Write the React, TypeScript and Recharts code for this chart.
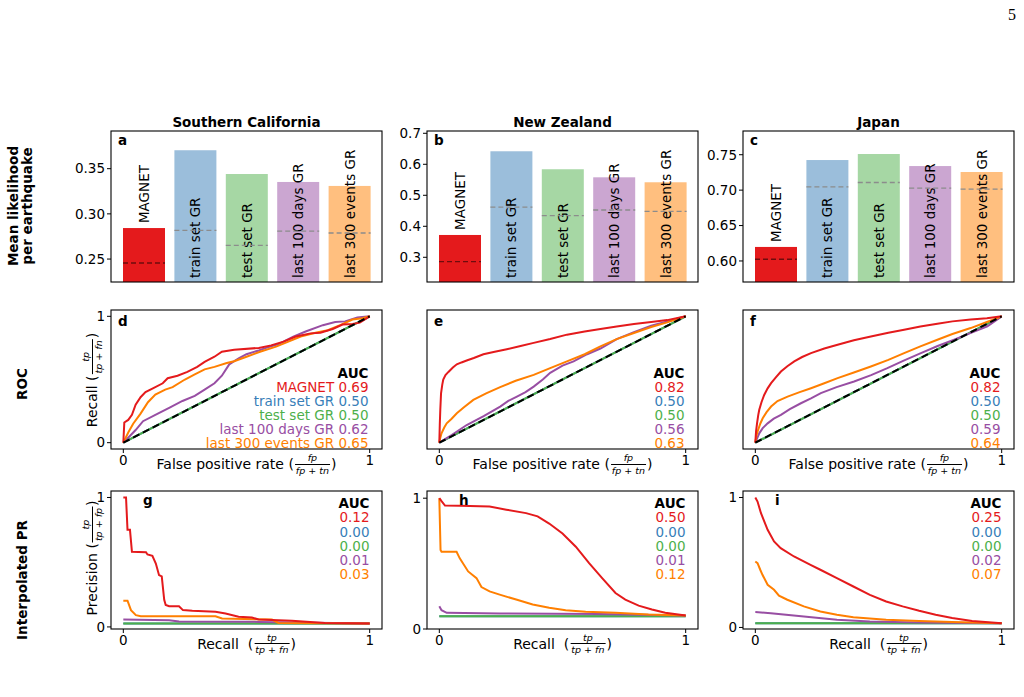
import React from 'react';
import { ComposedChart, LineChart, Bar, Line, XAxis, YAxis } from 'recharts';

const FONT = '"DejaVu Sans", Verdana, sans-serif';
const TEXT_SIZE = 13.5;

const METHODS = ['MAGNET', 'train set GR', 'test set GR', 'last 100 days GR', 'last 300 events GR'];
const LINE_COLORS = ['#e41a1c', '#377eb8', '#4daf4a', '#984ea3', '#ff7f00'];
const BAR_COLORS = ['#e41a1c', '#9bbedb', '#a6d7a4', '#cba6d1', '#ffbf7f'];
const REGIONS = ['Southern California', 'New Zealand', 'Japan'];
const ROW_LABELS = ['ROC', 'Interpolated PR'];

// mean likelihood per earthquake (bar) and the dashed reference level drawn on each bar
const socalLikelihood = [0.2843, 0.3704, 0.3441, 0.3353, 0.3309];
const socalReference = [0.2456, 0.2817, 0.2652, 0.281, 0.2788];
const socalTicks = [0.25, 0.3, 0.35];
const socalDomain = [0.2246, 0.3917];

const nzLikelihood = [0.372, 0.642, 0.584, 0.558, 0.542];
const nzReference = [0.286, 0.462, 0.4345, 0.4526, 0.4484];
const nzTicks = [0.3, 0.4, 0.5, 0.6, 0.7];
const nzDomain = [0.2203, 0.7074];

const japanLikelihood = [0.6198, 0.7425, 0.751, 0.734, 0.7256];
const japanReference = [0.6024, 0.7047, 0.7108, 0.7028, 0.7014];
const japanTicks = [0.6, 0.65, 0.7, 0.75];
const japanDomain = [0.5703, 0.7835];

// ROC curves, [false positive rate, recall]
const rocTrainGR = [[0, 0], [1, 1]];
const rocTestGR = [[0, 0], [1, 1]];
const chanceLine = [[0, 0], [1, 1]];

const rocSoCalMagnet = [
  [0, 0], [0.004, 0.16], [0.02, 0.18], [0.035, 0.22], [0.05, 0.3], [0.07, 0.36], [0.09, 0.4],
  [0.12, 0.43], [0.16, 0.47], [0.18, 0.51], [0.22, 0.53], [0.26, 0.56], [0.3, 0.6], [0.33, 0.64],
  [0.37, 0.68], [0.4, 0.72], [0.45, 0.735], [0.55, 0.75], [0.6, 0.77], [0.65, 0.8], [0.7, 0.84],
  [0.76, 0.865], [0.8, 0.87], [0.85, 0.9], [0.89, 0.935], [0.93, 0.94], [0.96, 0.95], [1, 1],
];
const rocSoCal100 = [
  [0, 0], [0.05, 0.1], [0.08, 0.17], [0.14, 0.23], [0.19, 0.28], [0.24, 0.33], [0.29, 0.37],
  [0.33, 0.42], [0.37, 0.47], [0.4, 0.53], [0.43, 0.62], [0.47, 0.67], [0.5, 0.7], [0.55, 0.73],
  [0.58, 0.75], [0.63, 0.78], [0.69, 0.84], [0.74, 0.88], [0.81, 0.93], [0.86, 0.955], [0.9, 0.96],
  [0.95, 0.99], [1, 1],
];
const rocSoCal300 = [
  [0, 0], [0.02, 0.08], [0.04, 0.15], [0.07, 0.23], [0.1, 0.32], [0.13, 0.38], [0.17, 0.42],
  [0.2, 0.44], [0.25, 0.5], [0.29, 0.54], [0.33, 0.58], [0.37, 0.6], [0.42, 0.63], [0.45, 0.645],
  [0.5, 0.68], [0.555, 0.72], [0.62, 0.76], [0.67, 0.8], [0.72, 0.84], [0.78, 0.87], [0.83, 0.89],
  [0.88, 0.93], [0.93, 0.975], [0.97, 0.985], [1, 1],
];

const rocNzMagnet = [
  [0, 0], [0.002, 0.15], [0.004, 0.26], [0.007, 0.39], [0.012, 0.46], [0.016, 0.5], [0.025, 0.535],
  [0.037, 0.56], [0.055, 0.595], [0.071, 0.62], [0.09, 0.635], [0.111, 0.65], [0.14, 0.67],
  [0.179, 0.7], [0.225, 0.72], [0.274, 0.74], [0.33, 0.765], [0.383, 0.79], [0.45, 0.82],
  [0.518, 0.855], [0.59, 0.88], [0.654, 0.9], [0.72, 0.92], [0.79, 0.94], [0.86, 0.955],
  [0.925, 0.97], [1, 1],
];
const rocNz100 = [
  [0, 0], [0.05, 0.06], [0.111, 0.14], [0.18, 0.21], [0.247, 0.286], [0.28, 0.33], [0.315, 0.365],
  [0.35, 0.4], [0.383, 0.444], [0.42, 0.5], [0.45, 0.553], [0.5, 0.61], [0.545, 0.643], [0.6, 0.7],
  [0.654, 0.745], [0.72, 0.82], [0.79, 0.875], [0.86, 0.925], [0.925, 0.96], [1, 1],
];
const rocNz300 = [
  [0, 0], [0.004, 0.04], [0.009, 0.074], [0.02, 0.12], [0.03, 0.153], [0.05, 0.19], [0.071, 0.233],
  [0.1, 0.28], [0.138, 0.339], [0.19, 0.39], [0.247, 0.439], [0.31, 0.49], [0.383, 0.537],
  [0.45, 0.59], [0.518, 0.643], [0.59, 0.7], [0.654, 0.762], [0.72, 0.82], [0.79, 0.868],
  [0.86, 0.915], [0.925, 0.952], [1, 1],
];

const rocJapanMagnet = [
  [0, 0], [0.003, 0.09], [0.007, 0.153], [0.012, 0.22], [0.016, 0.26], [0.025, 0.32], [0.036, 0.378],
  [0.05, 0.43], [0.064, 0.471], [0.085, 0.52], [0.104, 0.563], [0.13, 0.605], [0.158, 0.643],
  [0.19, 0.678], [0.226, 0.709], [0.28, 0.745], [0.334, 0.775], [0.4, 0.81], [0.469, 0.841],
  [0.54, 0.87], [0.604, 0.894], [0.67, 0.92], [0.739, 0.942], [0.8, 0.96], [0.874, 0.974],
  [0.94, 0.985], [1, 1],
];
const rocJapan100 = [
  [0, 0], [0.016, 0.074], [0.03, 0.115], [0.05, 0.153], [0.075, 0.19], [0.104, 0.22], [0.14, 0.265],
  [0.185, 0.312], [0.226, 0.35], [0.266, 0.392], [0.33, 0.44], [0.401, 0.484], [0.47, 0.535],
  [0.536, 0.59], [0.6, 0.648], [0.672, 0.709], [0.74, 0.765], [0.807, 0.815], [0.87, 0.865],
  [0.942, 0.921], [1, 1],
];
const rocJapan300 = [
  [0, 0], [0.004, 0.05], [0.009, 0.087], [0.02, 0.15], [0.03, 0.193], [0.045, 0.24], [0.064, 0.286],
  [0.09, 0.33], [0.131, 0.365], [0.18, 0.4], [0.226, 0.431], [0.28, 0.47], [0.334, 0.511],
  [0.4, 0.555], [0.469, 0.603], [0.54, 0.655], [0.604, 0.709], [0.67, 0.762], [0.739, 0.815],
  [0.8, 0.86], [0.874, 0.907], [0.94, 0.955], [1, 1],
];

const rocAucSoCal = [0.69, 0.5, 0.5, 0.62, 0.65];
const rocAucNz = [0.82, 0.5, 0.5, 0.56, 0.63];
const rocAucJapan = [0.82, 0.5, 0.5, 0.59, 0.64];

// interpolated precision-recall curves, [recall, precision]
const prSoCalMagnet = [
  [0, 1], [0.011, 1], [0.017, 0.75], [0.027, 0.75], [0.035, 0.58], [0.092, 0.577], [0.098, 0.56],
  [0.118, 0.55], [0.132, 0.49], [0.145, 0.4], [0.156, 0.39], [0.166, 0.21], [0.172, 0.17],
  [0.186, 0.16], [0.226, 0.16], [0.242, 0.13], [0.28, 0.125], [0.374, 0.117], [0.415, 0.104],
  [0.468, 0.078], [0.522, 0.073], [0.549, 0.057], [0.684, 0.047], [0.818, 0.031], [1, 0.026],
];
const prSoCalTrainGR = [[0, 0.026], [1, 0.026]];
const prSoCalTestGR = [[0, 0.026], [1, 0.026]];
const prSoCal100 = [[0, 0.057], [0.186, 0.052], [0.226, 0.042], [0.549, 0.039], [1, 0.026]];
const prSoCal300 = [
  [0, 0.203], [0.017, 0.203], [0.031, 0.13], [0.051, 0.091], [0.071, 0.083], [0.374, 0.083],
  [0.401, 0.065], [0.603, 0.057], [0.63, 0.031], [1, 0.026],
];

const prNzMagnet = [
  [0, 1], [0.009, 0.977], [0.023, 0.944], [0.083, 0.942], [0.204, 0.937], [0.272, 0.912],
  [0.352, 0.886], [0.399, 0.861], [0.446, 0.806], [0.5, 0.73], [0.554, 0.629], [0.608, 0.503],
  [0.661, 0.389], [0.715, 0.275], [0.755, 0.225], [0.809, 0.179], [0.863, 0.149], [0.917, 0.124],
  [1, 0.104],
];
const prNzTrainGR = [[0, 0.098], [1, 0.098]];
const prNzTestGR = [[0, 0.098], [1, 0.098]];
const prNz100 = [[0, 0.174], [0.009, 0.144], [0.03, 0.124], [0.245, 0.119], [0.648, 0.114], [1, 0.104]];
const prNz300 = [
  [0, 1], [0.005, 0.604], [0.009, 0.591], [0.07, 0.591], [0.083, 0.54], [0.117, 0.44], [0.151, 0.389],
  [0.171, 0.321], [0.204, 0.288], [0.245, 0.263], [0.312, 0.225], [0.379, 0.187], [0.446, 0.162],
  [0.513, 0.144], [0.594, 0.131], [0.715, 0.124], [0.849, 0.111], [1, 0.104],
];

const prJapanMagnet = [
  [0, 1], [0.009, 0.969], [0.023, 0.879], [0.05, 0.751], [0.076, 0.662], [0.103, 0.61],
  [0.157, 0.546], [0.224, 0.482], [0.264, 0.444], [0.331, 0.379], [0.398, 0.315], [0.465, 0.251],
  [0.531, 0.2], [0.598, 0.162], [0.665, 0.128], [0.732, 0.097], [0.799, 0.072], [0.88, 0.049],
  [1, 0.033],
];
const prJapanTrainGR = [[0, 0.033], [1, 0.033]];
const prJapanTestGR = [[0, 0.033], [1, 0.033]];
const prJapan100 = [
  [0, 0.118], [0.063, 0.11], [0.197, 0.085], [0.331, 0.059], [0.465, 0.046], [0.665, 0.038], [1, 0.033],
];
const prJapan300 = [
  [0, 0.508], [0.009, 0.495], [0.02, 0.444], [0.029, 0.405], [0.05, 0.328], [0.076, 0.29],
  [0.096, 0.244], [0.13, 0.213], [0.197, 0.162], [0.264, 0.123], [0.331, 0.097], [0.398, 0.079],
  [0.531, 0.059], [0.665, 0.049], [0.799, 0.041], [1, 0.033],
];

const prAucSoCal = [0.12, 0.0, 0.0, 0.01, 0.03];
const prAucNz = [0.5, 0.0, 0.0, 0.01, 0.12];
const prAucJapan = [0.25, 0.0, 0.0, 0.02, 0.07];

// layout of the 3x3 grid of panels (plot boxes)
const COL_LEFT = [111, 427, 743];
const PLOT_W = 271;
const BAR_ROW = { top: 131, h: 151 };
const ROC_ROW = { top: 310, h: 139 };
const PR_ROW = { top: 491, h: 138 };
const PAD_L = 50;
const PAD_T = 10;
const PAD_R = 10;
const PAD_B = 30;
const BAR_W = 42;

const toPoints = (pts: number[][]) => pts.map(([x, y]) => ({ x, y }));

const tickStyle = { fontSize: TEXT_SIZE, fill: '#000', fontFamily: FONT };

const likelihoodPanels = [
  { values: socalLikelihood, refs: socalReference, domain: socalDomain, ticks: socalTicks, decimals: 2 },
  { values: nzLikelihood, refs: nzReference, domain: nzDomain, ticks: nzTicks, decimals: 1 },
  { values: japanLikelihood, refs: japanReference, domain: japanDomain, ticks: japanTicks, decimals: 2 },
];

const rocPanels = [
  { curves: [rocSoCalMagnet, rocTrainGR, rocTestGR, rocSoCal100, rocSoCal300], auc: rocAucSoCal },
  { curves: [rocNzMagnet, rocTrainGR, rocTestGR, rocNz100, rocNz300], auc: rocAucNz },
  { curves: [rocJapanMagnet, rocTrainGR, rocTestGR, rocJapan100, rocJapan300], auc: rocAucJapan },
];

const prPanels = [
  { curves: [prSoCalMagnet, prSoCalTrainGR, prSoCalTestGR, prSoCal100, prSoCal300], auc: prAucSoCal, domain: [-0.016, 1.05] },
  { curves: [prNzMagnet, prNzTrainGR, prNzTestGR, prNz100, prNz300], auc: prAucNz, domain: [0, 1.055] },
  { curves: [prJapanMagnet, prJapanTrainGR, prJapanTestGR, prJapan100, prJapan300], auc: prAucJapan, domain: [-0.012, 1.05] },
];

// series are drawn blue, green, purple, orange, then red on top
const DRAW_ORDER = [1, 2, 3, 4, 0];

// filled bar plus its rotated method name
const renderLikelihoodBar = (props: any) => {
  const { x, y, width, height, payload } = props;
  if (x == null || y == null || !payload) return <g />;
  const i = METHODS.indexOf(payload.name);
  const cx = x + width / 2;
  const start = i === 0 ? y - 5 : y + height - 4;
  return (
    <g>
      <rect x={x} y={y} width={width} height={height} fill={BAR_COLORS[i]} />
      <text
        x={cx}
        y={start}
        transform={`rotate(-90 ${cx} ${start})`}
        textAnchor="start"
        dominantBaseline="central"
        fontSize={TEXT_SIZE}
        fontFamily={FONT}
        fill="#000"
      >
        {payload.name}
      </text>
    </g>
  );
};

// only the top edge of this bar is drawn, as a dashed level line
const renderRefDash = (props: any) => {
  const { x, y, width, payload } = props;
  if (x == null || y == null) return <g />;
  const magnet = payload && payload.name === METHODS[0];
  return (
    <line
      x1={x}
      x2={x + width}
      y1={y}
      y2={y}
      stroke={magnet ? '#6e0c0d' : '#8c8c8c'}
      strokeWidth={1.3}
      strokeDasharray="5 3"
    />
  );
};

function LikelihoodPanel({ col }: { col: number }) {
  const p = likelihoodPanels[col];
  const rows = METHODS.map((name, i) => ({ name, value: p.values[i], ref: p.refs[i] }));
  return (
    <div style={{ position: 'absolute', left: COL_LEFT[col] - PAD_L, top: BAR_ROW.top - PAD_T }}>
      <ComposedChart
        width={PLOT_W + PAD_L + PAD_R}
        height={BAR_ROW.h + PAD_T + PAD_B}
        data={rows}
        margin={{ top: PAD_T, right: PAD_R, bottom: 0, left: 0 }}
        barSize={BAR_W}
        barGap={-BAR_W}
      >
        <XAxis
          dataKey="name"
          type="category"
          height={PAD_B}
          tick={false}
          tickLine={false}
          axisLine={false}
          padding={{ left: 7, right: 7 }}
        />
        <YAxis
          type="number"
          domain={p.domain}
          ticks={p.ticks}
          allowDataOverflow
          width={PAD_L}
          axisLine={false}
          tickSize={4}
          tickMargin={2}
          tickLine={{ stroke: '#000' }}
          tick={tickStyle}
          tickFormatter={(v: number) => v.toFixed(p.decimals)}
        />
        <Bar dataKey="value" isAnimationActive={false} shape={renderLikelihoodBar} />
        <Bar dataKey="ref" isAnimationActive={false} shape={renderRefDash} />
      </ComposedChart>
    </div>
  );
}

function CurvePanel({
  col,
  row,
  curves,
  yDomain,
  showY,
  chance,
}: {
  col: number;
  row: { top: number; h: number };
  curves: number[][][];
  yDomain: number[];
  showY: boolean;
  chance: boolean;
}) {
  return (
    <div style={{ position: 'absolute', left: COL_LEFT[col] - PAD_L, top: row.top - PAD_T }}>
      <LineChart
        width={PLOT_W + PAD_L + PAD_R}
        height={row.h + PAD_T + PAD_B}
        margin={{ top: PAD_T, right: PAD_R, bottom: 0, left: 0 }}
      >
        <XAxis
          type="number"
          dataKey="x"
          domain={[-0.05, 1.05]}
          ticks={[0, 1]}
          allowDataOverflow
          height={PAD_B}
          axisLine={false}
          tickSize={4}
          tickMargin={2}
          tickLine={{ stroke: '#000' }}
          tick={tickStyle}
        />
        <YAxis
          type="number"
          domain={yDomain}
          ticks={[0, 1]}
          allowDataOverflow
          width={PAD_L}
          axisLine={false}
          tickSize={4}
          tickMargin={2}
          tickLine={showY ? { stroke: '#000' } : false}
          tick={showY ? tickStyle : false}
        />
        {DRAW_ORDER.map((i) => (
          <Line
            key={METHODS[i]}
            data={toPoints(curves[i])}
            dataKey="y"
            type="linear"
            stroke={LINE_COLORS[i]}
            strokeWidth={2}
            dot={false}
            activeDot={false}
            isAnimationActive={false}
          />
        ))}
        {chance && (
          <Line
            data={toPoints(chanceLine)}
            dataKey="y"
            type="linear"
            stroke="#000"
            strokeWidth={2}
            strokeDasharray="7 4"
            dot={false}
            activeDot={false}
            isAnimationActive={false}
          />
        )}
      </LineChart>
    </div>
  );
}

function FracLabel({
  cx,
  cy,
  before,
  num,
  den,
  rotate,
}: {
  cx: number;
  cy: number;
  before: string;
  num: string;
  den: string[];
  rotate?: boolean;
}) {
  return (
    <div
      style={{
        position: 'absolute',
        left: cx,
        top: cy,
        transform: `translate(-50%, -50%)${rotate ? ' rotate(-90deg)' : ''}`,
        display: 'flex',
        alignItems: 'center',
        whiteSpace: 'pre',
        fontFamily: FONT,
        fontSize: 14,
        color: '#000',
        lineHeight: 1,
      }}
    >
      <span>{before}(</span>
      <span
        style={{
          display: 'inline-flex',
          flexDirection: 'column',
          alignItems: 'center',
          fontSize: 9.5,
          margin: '0 1px',
        }}
      >
        <span style={{ padding: '0 1px 1px', fontStyle: 'italic' }}>{num}</span>
        <span style={{ borderTop: '0.8px solid #000', padding: '1px 1px 0' }}>
          <i>{den[0]}</i> + <i>{den[1]}</i>
        </span>
      </span>
      <span>)</span>
    </div>
  );
}

function AucBlock({ x, y, step, values, names }: { x: number; y: number; step: number; values: number[]; names: boolean }) {
  return (
    <g fontFamily={FONT} fontSize={TEXT_SIZE} textAnchor="end">
      <text x={x} y={y} fontWeight="bold" fill="#000">
        AUC
      </text>
      {values.map((v, i) => (
        <text key={METHODS[i]} x={x} y={y + step * (i + 1)} fill={LINE_COLORS[i]}>
          {names ? `${METHODS[i]} ${v.toFixed(2)}` : v.toFixed(2)}
        </text>
      ))}
    </g>
  );
}

export default function App() {
  const rows = [BAR_ROW, ROC_ROW, PR_ROW];
  return (
    <div
      style={{
        position: 'absolute',
        left: 0,
        top: 0,
        width: 1024,
        height: 697,
        background: '#fff',
        overflow: 'hidden',
      }}
    >
      {[0, 1, 2].map((c) => (
        <LikelihoodPanel key={`bar-${c}`} col={c} />
      ))}
      {rocPanels.map((p, c) => (
        <CurvePanel key={`roc-${c}`} col={c} row={ROC_ROW} curves={p.curves} yDomain={[-0.05, 1.05]} showY={c === 0} chance />
      ))}
      {prPanels.map((p, c) => (
        <CurvePanel key={`pr-${c}`} col={c} row={PR_ROW} curves={p.curves} yDomain={p.domain} showY chance={false} />
      ))}

      <svg width={1024} height={697} style={{ position: 'absolute', left: 0, top: 0, pointerEvents: 'none' }}>
        {/* page number */}
        <text x={1012} y={20} textAnchor="middle" fontFamily='"Liberation Serif", serif' fontSize={16} fill="#000">
          5
        </text>

        {/* panel frames */}
        {rows.map((r, ri) =>
          COL_LEFT.map((l, c) => (
            <rect key={`frame-${ri}-${c}`} x={l} y={r.top} width={PLOT_W} height={r.h} fill="none" stroke="#000" strokeWidth={1.1} />
          ))
        )}

        <g fontFamily={FONT} fontSize={TEXT_SIZE} fontWeight="bold" fill="#000">
          {/* region titles */}
          {REGIONS.map((name, c) => (
            <text key={name} x={COL_LEFT[c] + PLOT_W / 2} y={122} textAnchor="middle" dominantBaseline="central">
              {name}
            </text>
          ))}

          {/* panel letters */}
          {COL_LEFT.map((l, c) => (
            <text key={`la-${c}`} x={l + 7} y={BAR_ROW.top + 13.5}>
              {'abc'[c]}
            </text>
          ))}
          {COL_LEFT.map((l, c) => (
            <text key={`ld-${c}`} x={l + 7} y={ROC_ROW.top + 15.5}>
              {'def'[c]}
            </text>
          ))}
          {COL_LEFT.map((l, c) => (
            <text key={`lg-${c}`} x={l + 32} y={PR_ROW.top + 14}>
              {'ghi'[c]}
            </text>
          ))}
        </g>

        {/* AUC legends */}
        {rocPanels.map((p, c) => (
          <AucBlock key={`auc-roc-${c}`} x={COL_LEFT[c] + 257.5} y={ROC_ROW.top + 67.7} step={14.05} values={p.auc} names={c === 0} />
        ))}
        {prPanels.map((p, c) => (
          <AucBlock key={`auc-pr-${c}`} x={COL_LEFT[c] + 258.5} y={PR_ROW.top + 17.2} step={14.2} values={p.auc} names={false} />
        ))}

        {/* row labels */}
        <g fontFamily={FONT} fontSize={TEXT_SIZE} fontWeight="bold" fill="#000" textAnchor="middle" dominantBaseline="central">
          <text x={13} y={206} transform="rotate(-90 13 206)">
            Mean likelihood
          </text>
          <text x={27} y={206} transform="rotate(-90 27 206)">
            per earthquake
          </text>
          <text x={22} y={384} transform="rotate(-90 22 384)">
            {ROW_LABELS[0]}
          </text>
          <text x={22} y={580} transform="rotate(-90 22 580)">
            {ROW_LABELS[1]}
          </text>
        </g>
      </svg>

      {/* axis labels */}
      {COL_LEFT.map((l, c) => (
        <FracLabel key={`xr-${c}`} cx={l + PLOT_W / 2} cy={ROC_ROW.top + ROC_ROW.h + 15} before="False positive rate " num="fp" den={['fp', 'tn']} />
      ))}
      {COL_LEFT.map((l, c) => (
        <FracLabel key={`xp-${c}`} cx={l + PLOT_W / 2} cy={PR_ROW.top + PR_ROW.h + 14.5} before="Recall  " num="tp" den={['tp', 'fn']} />
      ))}
      <FracLabel cx={92} cy={ROC_ROW.top + ROC_ROW.h / 2} before="Recall " num="tp" den={['tp', 'fn']} rotate />
      <FracLabel cx={92} cy={558} before="Precision " num="tp" den={['tp', 'fp']} rotate />
    </div>
  );
}
